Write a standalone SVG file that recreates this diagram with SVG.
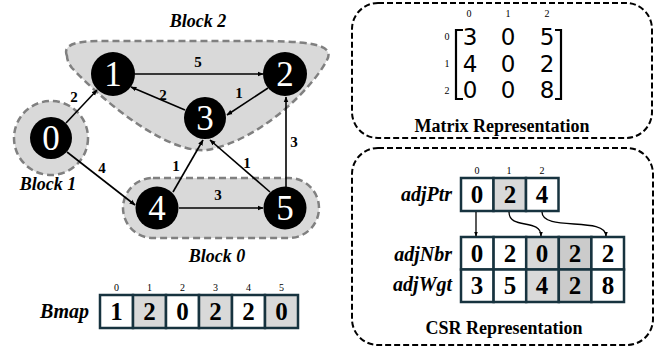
<svg xmlns="http://www.w3.org/2000/svg" width="670" height="350" viewBox="0 0 670 350">
  <style>
    .block { fill: #d9d9d9; stroke: #808080; stroke-width: 2.5; stroke-dasharray: 7 4; }
    .blabel { font-family: "Liberation Serif", serif; font-weight: bold; font-style: italic; font-size: 18px; text-anchor: middle; }
    .node circle { fill: #000; }
    .node text { font-family: "Liberation Serif", serif; font-size: 35px; fill: #fff; text-anchor: middle; }
    .edge { stroke: #000; stroke-width: 1.6; fill: none; marker-end: url(#arrow); }
    .elabel { font-family: "Liberation Serif", serif; font-weight: bold; font-size: 15px; text-anchor: middle; }
    .panel { fill: none; stroke: #000; stroke-width: 2; stroke-dasharray: 6 3; }
    .ptitle { font-family: "Liberation Serif", serif; font-weight: bold; font-size: 18px; text-anchor: middle; }
    .cell { stroke: #17333f; stroke-width: 2.5; fill: #fff; }
    .g1 { fill: #d9d9d9; }
    .g2 { fill: #cbcbcb; }
    .cval { font-family: "Liberation Serif", serif; font-weight: bold; font-size: 25px; text-anchor: middle; }
    .idx { font-family: "Liberation Serif", serif; font-size: 10px; text-anchor: middle; }
    .alabel { font-family: "Liberation Serif", serif; font-weight: bold; font-style: italic; font-size: 20px; text-anchor: end; }
    .mval { font-family: "DejaVu Sans", sans-serif; font-size: 23px; text-anchor: middle; }
    .bracket { fill: none; stroke: #000; stroke-width: 2.2; }
    .ptr { stroke: #000; stroke-width: 1.3; fill: none; marker-end: url(#arrowS); }
  </style>
  <defs>
    <marker id="arrow" viewBox="0 0 10 10" refX="9" refY="5" markerWidth="6" markerHeight="6" orient="auto" markerUnits="userSpaceOnUse">
      <path d="M0,1 L10,5 L0,9 Z" fill="#000"/>
    </marker>
    <marker id="arrowS" viewBox="0 0 10 10" refX="9" refY="5" markerWidth="5" markerHeight="5" orient="auto" markerUnits="userSpaceOnUse">
      <path d="M0,1 L10,5 L0,9 Z" fill="#000"/>
    </marker>
  </defs>

  <!-- block regions -->
  <g id="block2">
    <path class="block" d="M67,56 C62,44 78,41 100,41 L250,41 C305,41 336,43 327,60 C314,86 262,140 207,150 C170,154 110,108 72,68 C69,64 67,60 67,56 Z"/>
    <text class="blabel" x="198" y="27">Block 2</text>
  </g>
  <g id="block1">
    <circle class="block" cx="51" cy="138" r="37"/>
    <text class="blabel" x="48" y="190">Block 1</text>
  </g>
  <g id="block0">
    <rect class="block" x="123" y="178" width="196" height="60" rx="30"/>
    <text class="blabel" x="217" y="262">Block 0</text>
  </g>

  <!-- connectors -->
  <g id="edges">
    <line class="edge" x1="66" y1="123" x2="97" y2="90"/>
    <line class="edge" x1="67" y1="152" x2="135" y2="205"/>
    <line class="edge" x1="135" y1="74" x2="263" y2="74"/>
    <line class="edge" x1="185" y1="110" x2="131" y2="87"/>
    <line class="edge" x1="268" y1="88" x2="227" y2="115"/>
    <line class="edge" x1="173" y1="192" x2="203" y2="140"/>
    <line class="edge" x1="270" y1="192" x2="210" y2="140"/>
    <line class="edge" x1="286" y1="187" x2="286" y2="97"/>
    <line class="edge" x1="179" y1="208" x2="263" y2="208"/>
    <text class="elabel" x="74" y="102">2</text>
    <text class="elabel" x="102" y="173">4</text>
    <text class="elabel" x="198" y="67">5</text>
    <text class="elabel" x="163" y="100">2</text>
    <text class="elabel" x="239" y="98">1</text>
    <text class="elabel" x="176" y="171">1</text>
    <text class="elabel" x="247" y="168">1</text>
    <text class="elabel" x="294" y="147">3</text>
    <text class="elabel" x="218" y="200">3</text>
  </g>

  <!-- graph nodes -->
  <g id="n0" class="node"><circle cx="51" cy="138" r="21"/><text x="51" y="150">0</text></g>
  <g id="n1" class="node"><circle cx="113" cy="74" r="22"/><text x="113" y="86">1</text></g>
  <g id="n2" class="node"><circle cx="285" cy="74" r="22"/><text x="285" y="86">2</text></g>
  <g id="n3" class="node"><circle cx="205" cy="118" r="21"/><text x="205" y="130">3</text></g>
  <g id="n4" class="node"><circle cx="157" cy="208" r="21.5"/><text x="157" y="220">4</text></g>
  <g id="n5" class="node"><circle cx="285" cy="208" r="21.5"/><text x="285" y="220">5</text></g>

  <!-- block map array -->
  <g id="bmap">
    <text class="alabel" x="89" y="318">Bmap</text>
    <rect class="cell" x="100" y="295" width="33" height="33"/>
    <rect class="cell g1" x="133" y="295" width="33" height="33"/>
    <rect class="cell" x="166" y="295" width="33" height="33"/>
    <rect class="cell g1" x="199" y="295" width="33" height="33"/>
    <rect class="cell" x="232" y="295" width="33" height="33"/>
    <rect class="cell g1" x="265" y="295" width="33" height="33"/>
    <text class="cval" x="116.5" y="320">1</text>
    <text class="cval" x="149.5" y="320">2</text>
    <text class="cval" x="182.5" y="320">0</text>
    <text class="cval" x="215.5" y="320">2</text>
    <text class="cval" x="248.5" y="320">2</text>
    <text class="cval" x="281.5" y="320">0</text>
    <text class="idx" x="116.5" y="291">0</text>
    <text class="idx" x="149.5" y="291">1</text>
    <text class="idx" x="182.5" y="291">2</text>
    <text class="idx" x="215.5" y="291">3</text>
    <text class="idx" x="248.5" y="291">4</text>
    <text class="idx" x="281.5" y="291">5</text>
  </g>

  <!-- matrix panel -->
  <g id="matrix">
    <rect class="panel" x="352" y="3" width="300" height="135" rx="26"/>
    <text class="idx" x="469" y="17">0</text>
    <text class="idx" x="508" y="17">1</text>
    <text class="idx" x="547" y="17">2</text>
    <text class="idx" x="447" y="40">0</text>
    <text class="idx" x="447" y="67">1</text>
    <text class="idx" x="447" y="94">2</text>
    <path class="bracket" d="M463,30 L456,30 L456,99 L463,99"/>
    <path class="bracket" d="M555,30 L561,30 L561,99 L555,99"/>
    <text class="mval" x="470" y="45">3</text>
    <text class="mval" x="508" y="45">0</text>
    <text class="mval" x="547" y="45">5</text>
    <text class="mval" x="470" y="72">4</text>
    <text class="mval" x="508" y="72">0</text>
    <text class="mval" x="547" y="72">2</text>
    <text class="mval" x="470" y="98">0</text>
    <text class="mval" x="508" y="98">0</text>
    <text class="mval" x="547" y="98">8</text>
    <text class="ptitle" x="502" y="132">Matrix Representation</text>
  </g>

  <!-- CSR panel -->
  <g id="csr">
    <rect class="panel" x="352" y="148" width="301" height="197" rx="26"/>
    <text class="alabel" x="452" y="201">adjPtr</text>
    <text class="alabel" x="452" y="261">adjNbr</text>
    <text class="alabel" x="452" y="291">adjWgt</text>
    <text class="idx" x="477" y="174">0</text>
    <text class="idx" x="509" y="174">1</text>
    <text class="idx" x="542" y="174">2</text>
    <rect class="cell" x="461" y="178" width="32.5" height="33"/>
    <rect class="cell g1" x="493.5" y="178" width="32.5" height="33"/>
    <rect class="cell" x="526" y="178" width="32.5" height="33"/>
    <text class="cval" x="477" y="203">0</text>
    <text class="cval" x="510" y="203">2</text>
    <text class="cval" x="542" y="203">4</text>

    <rect class="cell" x="461" y="237" width="32.6" height="32.5"/>
    <rect class="cell" x="493.6" y="237" width="32.6" height="32.5"/>
    <rect class="cell g1" x="526.2" y="237" width="32.6" height="32.5"/>
    <rect class="cell g2" x="558.8" y="237" width="32.6" height="32.5"/>
    <rect class="cell" x="591.4" y="237" width="32.6" height="32.5"/>
    <rect class="cell" x="461" y="269.5" width="32.6" height="32.5"/>
    <rect class="cell" x="493.6" y="269.5" width="32.6" height="32.5"/>
    <rect class="cell g1" x="526.2" y="269.5" width="32.6" height="32.5"/>
    <rect class="cell g2" x="558.8" y="269.5" width="32.6" height="32.5"/>
    <rect class="cell" x="591.4" y="269.5" width="32.6" height="32.5"/>
    <text class="cval" x="477" y="262">0</text>
    <text class="cval" x="510" y="262">2</text>
    <text class="cval" x="542" y="262">0</text>
    <text class="cval" x="575" y="262">2</text>
    <text class="cval" x="608" y="262">2</text>
    <text class="cval" x="477" y="294">3</text>
    <text class="cval" x="510" y="294">5</text>
    <text class="cval" x="542" y="294">4</text>
    <text class="cval" x="575" y="294">2</text>
    <text class="cval" x="608" y="294">8</text>

    <path class="ptr" d="M476,212 L476,236"/>
    <path class="ptr" d="M509,212 C509,230 541,218 541,236"/>
    <path class="ptr" d="M542,212 C542,232 606,216 606,236"/>
    <text class="ptitle" x="504" y="334">CSR Representation</text>
  </g>
</svg>
